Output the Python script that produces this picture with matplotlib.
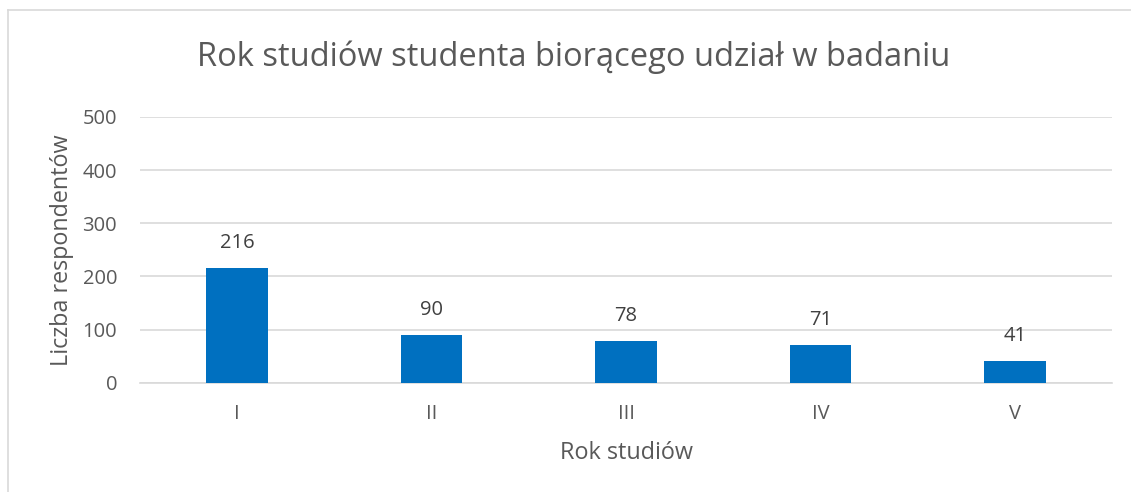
import matplotlib
matplotlib.use("Agg")
import matplotlib.pyplot as plt
from matplotlib.lines import Line2D

categories = ["I", "II", "III", "IV", "V"]
values = [216, 90, 78, 71, 41]
yticks = [0, 100, 200, 300, 400, 500]

title = "Rok studiów studenta biorącego udział w badaniu"
xlabel = "Rok studiów"
ylabel = "Liczba respondentów"

plt.rcParams['font.family'] = ['Open Sans', 'DejaVu Sans']
txt = "#595959"
lbl = "#404040"
grid = "#D9D9D9"
bar_color = "#0070C0"

fig = plt.figure(figsize=(11.31, 4.92), dpi=100)
ax = fig.add_axes([140/1131, 1-382.7/492, (1112-140)/1131, (382.7-117)/492])

x = range(len(categories))
ax.bar(x, values, width=0.317, color=bar_color, zorder=3)
ax.set_xlim(-0.5, len(categories)-0.5)
ax.set_ylim(0, 500)
ax.set_yticks(yticks)
ax.set_xticks(list(x))
ax.set_xticklabels(categories)
ax.grid(axis='y', color=grid, linewidth=1.2, zorder=0)
for s in ['top', 'right', 'left']:
    ax.spines[s].set_visible(False)
ax.spines['bottom'].set_color(grid)
ax.spines['bottom'].set_linewidth(1.2)
ax.tick_params(axis='both', length=0, labelsize=14.5, labelcolor=txt)
ax.tick_params(axis='y', pad=16.5)
ax.tick_params(axis='x', pad=15)

for xi, v in zip(x, values):
    ax.annotate(str(v), (xi, v), xytext=(0, 11), textcoords='offset points',
                ha='center', va='bottom', fontsize=14.5, color=lbl)

fig.text(626/1131, 1-453/492, xlabel, ha='center', va='center', fontsize=16.8, color=txt)
fig.text(62/1131, 1-250/492, ylabel, ha='center', va='center', rotation=90, fontsize=16.8, color=txt)
fig.text(574/1131, 1-57/492, title, ha='center', va='center', fontsize=23.5, color=txt)

# chart border (partially visible)
fig.add_artist(Line2D([8/1131, 8/1131], [0, 1-10/492], transform=fig.transFigure, color=grid, linewidth=1.2))
fig.add_artist(Line2D([8/1131, 1], [1-10/492, 1-10/492], transform=fig.transFigure, color=grid, linewidth=1.2))

fig.savefig("out.png", dpi=100, facecolor='white')
